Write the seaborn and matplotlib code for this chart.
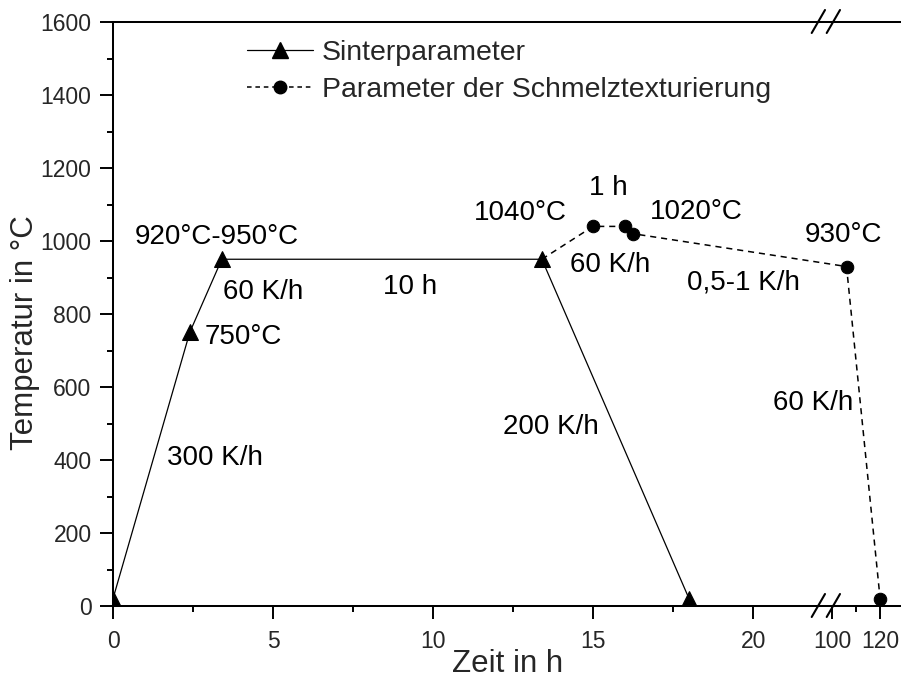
import numpy as np
import pandas as pd
import matplotlib
matplotlib.use("Agg")
import matplotlib.pyplot as plt
from matplotlib.lines import Line2D
import seaborn as sns

# ---- data ----
sinter_time = [0, 2.4, 3.4, 13.4, 18.0]
sinter_temp = [20, 750, 950, 950, 20]
melt_time = [13.4, 15.0, 16.0, 16.25, 106, 120]
melt_temp = [950, 1040, 1040, 1020, 930, 20]
x_major = [0, 5, 10, 15, 20, 100, 120]
x_labels = ["0", "5", "10", "15", "20", "100", "120"]
x_minor = [2.5, 7.5, 12.5, 17.5, 110]
y_major = list(range(0, 1601, 200))
y_minor = list(range(100, 1600, 200))
series_names = ["Sinterparameter", "Parameter der Schmelztexturierung"]

sns.set_style("ticks")
plt.rcParams["font.family"] = ["Liberation Sans", "DejaVu Sans"]

W, H = 901, 682
fig = plt.figure(figsize=(W / 100, H / 100), dpi=100)
ax = fig.add_axes([113 / W, 1 - 606 / H, (W - 113) / W, (606 - 22) / H])


def fwd(x):
    x = np.asarray(x, dtype=float)
    return np.where(x <= 22, x,
                    np.where(x < 100, 22 + (x - 22) * (0.47 / 78),
                             22.47 + (x - 100) * 0.075))


def inv(u):
    u = np.asarray(u, dtype=float)
    return np.where(u <= 22, u,
                    np.where(u < 22.47, 22 + (u - 22) * (78 / 0.47),
                             100 + (u - 22.47) / 0.075))


ax.set_xscale("function", functions=(fwd, inv))

df_s = pd.DataFrame({"t": sinter_time, "T": sinter_temp})
df_m = pd.DataFrame({"t": melt_time, "T": melt_temp})

sns.lineplot(data=df_s, x="t", y="T", ax=ax, color="black", lw=0.9,
             marker="^", markersize=11.5, markeredgecolor="black",
             sort=False, estimator=None, label=series_names[0])
sns.lineplot(data=df_m, x="t", y="T", ax=ax, color="black", lw=1.1,
             marker="o", markersize=9, markeredgecolor="black",
             markevery=[1, 2, 3, 4, 5],
             sort=False, estimator=None, label=series_names[1])
ax.lines[-1].set_dashes((4, 3.2))

ax.set_xlim(0, 128.7)
ax.set_ylim(0, 1600)
ax.set_xticks(x_major)
ax.set_xticklabels(x_labels)
ax.set_xticks(x_minor, minor=True)
ax.set_yticks(y_major)
ax.set_yticks(y_minor, minor=True)

ax.tick_params(axis="both", which="major", length=9.4, width=1.4,
               labelsize=16.5, direction="out", color="black")
ax.tick_params(axis="both", which="minor", length=4.6, width=1.4,
               direction="out", color="black")
ax.tick_params(axis="x", which="major", pad=8)
ax.tick_params(axis="y", which="major", pad=6)

for side in ["left", "bottom", "top"]:
    ax.spines[side].set_linewidth(1.45)
    ax.spines[side].set_color("black")
ax.spines["right"].set_visible(False)

ax.set_xlabel("Zeit in h", fontsize=22.5)
ax.set_ylabel("Temperatur in °C", fontsize=22.5)
ax.xaxis.set_label_coords((508 - 113) / 788, (606 - 649) / 584)
ax.yaxis.set_label_coords((40 - 113) / 788, (606 - 333) / 584)

# legend
handles = [
    Line2D([], [], color="black", lw=0.9, marker="^", markersize=11.5),
    Line2D([], [], color="black", lw=1.1, marker="o", markersize=9,
           dashes=(3, 2.5)),
]
ax.legend(handles, series_names, loc="upper left",
          bbox_to_anchor=(247 / W, 1 - 40 / H), bbox_transform=fig.transFigure,
          frameon=False, fontsize=20.5, handlelength=2.32, handletextpad=0.32,
          borderpad=0, borderaxespad=0, labelspacing=0.4, numpoints=1)

# annotations (pixel positions)
notes = [
    ("920°C-950°C", 135, 237, "left"),
    ("60 K/h", 223, 292, "left"),
    ("750°C", 205, 337, "left"),
    ("300 K/h", 167, 458, "left"),
    ("10 h", 410, 287, "center"),
    ("1040°C", 567, 213, "right"),
    ("1 h", 608, 188, "center"),
    ("1020°C", 650, 212, "left"),
    ("60 K/h", 570, 265, "left"),
    ("0,5-1 K/h", 687, 282, "left"),
    ("930°C", 805, 235, "left"),
    ("60 K/h", 853, 403, "right"),
    ("200 K/h", 503, 427, "left"),
]
for txt, px, py, ha in notes:
    fig.text(px / W, 1 - py / H, txt, ha=ha, va="center", fontsize=20,
             color="black")

# axis break marks
for yc in (606, 22):
    for x0 in (811.7, 826.7):
        fig.add_artist(Line2D([x0 / W, (x0 + 13.3) / W],
                              [1 - (yc + 11) / H, 1 - (yc - 12) / H],
                              transform=fig.transFigure, color="black",
                              lw=1.5))

fig.savefig("out.png", dpi=100)
